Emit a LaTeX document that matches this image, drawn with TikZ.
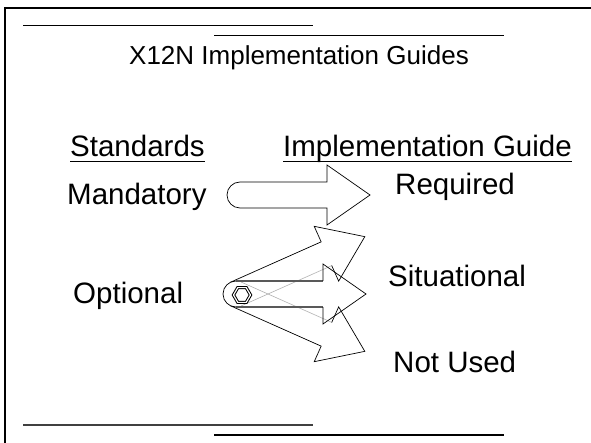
\documentclass[tikz,border=0pt]{standalone}
\usepackage{fontspec}
\setmainfont{Liberation Sans}
\usetikzlibrary{shapes.geometric}

\begin{document}
\begin{tikzpicture}[x=1pt,y=1pt,
		lbl/.style={font=\fontsize{29.5}{32}\selectfont,inner sep=0pt,anchor=base west},
		rule/.style={line width=0.8pt},
		arrowline/.style={line width=0.7pt,line join=miter},
		shaftline/.style={draw=black!65,line width=1.1pt},
		hidden/.style={draw=black!30,line width=0.6pt}]
	\useasboundingbox (0,0) rectangle (591,-443);
	\fill[white] (0,0) rectangle (591,-443);

	% frame and rules
	\draw[line width=2.6pt,line join=miter] (5,-446) -- (5,-8) -- (594,-8);
	\draw[rule] (23,-25) -- (313,-25);
	\draw[rule] (214,-35) -- (504,-35);
	\draw[rule,draw=black!75,line width=1.4pt] (23,-425) -- (313,-425);
	\draw[rule,line width=1.2pt] (214,-435) -- (504,-435);

	% texts
	\node[font=\fontsize{26}{28}\selectfont,inner sep=0pt,anchor=base] (title) at (299,-65) {X12N Implementation Guides};
	\node[lbl] (std)  at (70,-157)  {Standards};
	\node[lbl] (impl) at (283,-157) {Implementation Guide};
	\node[lbl] (mand) at (67,-205)  {Mandatory};
	\node[lbl] (req)  at (395,-195) {Required};
	\node[lbl] (opt)  at (73,-303)  {Optional};
	\node[lbl] (sit)  at (388,-287) {Situational};
	\node[lbl] (notused) at (393,-372) {Not Used};
	\draw[line width=1.8pt] ([yshift=-4.5pt]std.base west) -- ([yshift=-4.5pt]std.base east);
	\draw[line width=1.8pt] ([yshift=-4.5pt]impl.base west) -- ([yshift=-4.5pt]impl.base east);

	% mandatory -> required
	\draw[arrowline] (240,-182) -- (327,-182) -- (327,-165) -- (370,-195) -- (327,-225) -- (327,-208) -- (240,-208)
		arc[start angle=270,end angle=90,radius=13] -- cycle;

	% optional -> three ways
	\begin{scope}[shift={(236,-294)},rotate=24]
		\draw[hidden] (99,-13) -- (0,-13);
		\draw[arrowline] (0,13) -- (99,13) -- (99,30) -- (141,0) -- (99,-30) -- (99,-13);
	\end{scope}
	\begin{scope}[shift={(236,-294)},rotate=-24]
		\draw[hidden] (99,13) -- (0,13);
		\draw[arrowline] (0,-13) -- (99,-13) -- (99,-30) -- (141,0) -- (99,30) -- (99,13);
	\end{scope}
	\draw[shaftline] (236,-281) -- (323,-281);
	\draw[shaftline] (236,-307) -- (323,-307);
	\draw[arrowline] (323,-281) -- (323,-264) -- (366,-294) -- (323,-324) -- (323,-307);
	\draw[arrowline] (236,-307) arc[start angle=270,end angle=90,radius=13];
	\node[regular polygon,regular polygon sides=6,draw,double,line width=1pt,double distance=1.2pt,
		minimum size=17pt,inner sep=0pt] (hub) at (242,-295) {};
\end{tikzpicture}
\end{document}
